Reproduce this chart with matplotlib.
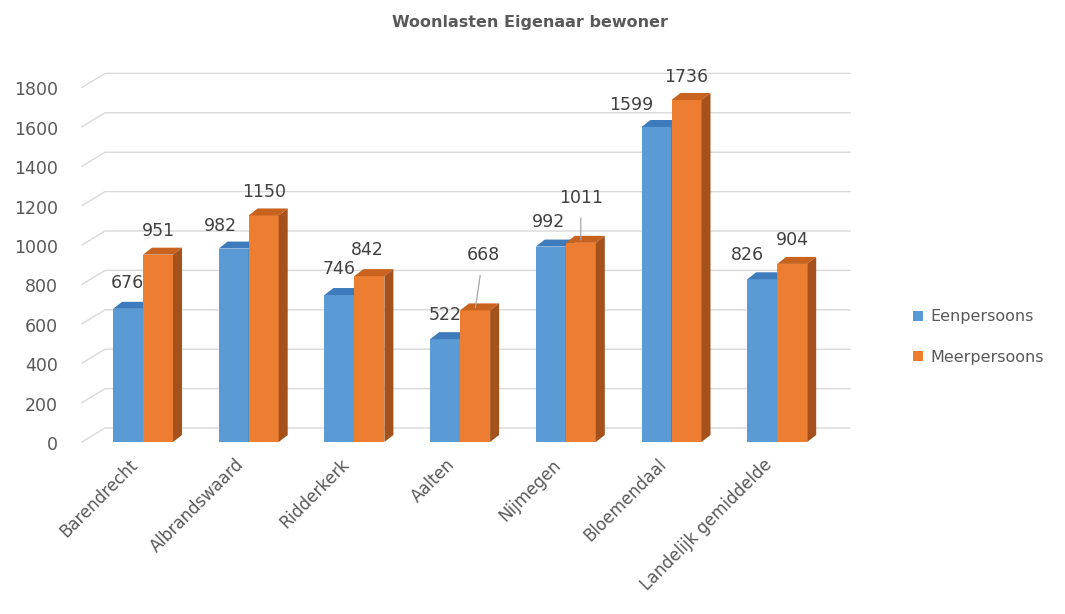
import matplotlib.pyplot as plt
from matplotlib.patches import Polygon, Patch

# data
categories = ['Barendrecht', 'Albrandswaard', 'Ridderkerk', 'Aalten',
              'Nijmegen', 'Bloemendaal', 'Landelijk gemiddelde']
eenpersoons = [676, 982, 746, 522, 992, 1599, 826]
meerpersoons = [951, 1150, 842, 668, 1011, 1736, 904]
series_names = ['Eenpersoons', 'Meerpersoons']
y_ticks = [0, 200, 400, 600, 800, 1000, 1200, 1400, 1600, 1800]

# label offsets in pixels (dx, dy) from the front top centre of each bar
lab_off_een = [(-1, 26), (-13, 23), (0, 26), (0, 24), (-2, 25), (-25, 22), (-15, 24)]
lab_off_meer = [(0, 24), (0, 23), (-2, 26), (8, 55), (0, 45), (0, 23), (0, 24)]
leader_meer = [False, False, False, True, True, False, False]

# colours
blue, blue_top, blue_side = '#5b9bd5', '#3d7bbd', '#3b6c9c'
orange, orange_top, orange_side = '#ed7d31', '#c8621f', '#a4511b'
grid_c = '#d9d9d9'
txt_c = '#595959'

W, H = 1065, 614
fig = plt.figure(figsize=(W / 100, H / 100), dpi=100)

# axes geometry in pixels
px_left, px_right, px_bottom, px_top = 82, 850, 442, 60
ax = fig.add_axes([px_left / W, 1 - px_bottom / H,
                   (px_right - px_left) / W, (px_bottom - px_top) / H])
px_per_x = 105.7
px_per_y = 0.197
x0 = 143  # pixel centre of first group
xmin = (px_left - x0) / px_per_x
xmax = (px_right - x0) / px_per_x
ymax = (px_bottom - px_top) / px_per_y
ax.set_xlim(xmin, xmax)
ax.set_ylim(0, ymax)
ax.axis('off')

bw = 30 / px_per_x           # bar width
ddx, ddy = 9 / px_per_x, 7 / px_per_y      # bar depth
bdx, bdy = 23 / px_per_x, 14 / px_per_y    # back wall offset

k = 72 / 100  # px -> pt

# back wall gridlines with side wall diagonals
for v in y_ticks:
    ax.plot([xmin, xmin + bdx, xmax], [v, v + bdy, v + bdy],
            color=grid_c, lw=1, zorder=1, clip_on=False)
    ax.annotate(str(v), xy=(xmin, v), xytext=(-24 * k, -3 * k),
                textcoords='offset points', ha='right', va='center',
                fontsize=12.5, color=txt_c)


def bar3d(x, h, front, top, side):
    ax.add_patch(Polygon([(x, 0), (x + bw, 0), (x + bw, h), (x, h)],
                         closed=True, fc=front, ec='none', zorder=3))
    ax.add_patch(Polygon([(x, h), (x + bw, h), (x + bw + ddx, h + ddy), (x + ddx, h + ddy)],
                         closed=True, fc=top, ec='none', zorder=3))
    ax.add_patch(Polygon([(x + bw, 0), (x + bw + ddx, ddy), (x + bw + ddx, h + ddy), (x + bw, h)],
                         closed=True, fc=side, ec='none', zorder=3))


for i in range(len(categories)):
    bar3d(i - bw, eenpersoons[i], blue, blue_top, blue_side)
    bar3d(i, meerpersoons[i], orange, orange_top, orange_side)

    dx, dy = lab_off_een[i]
    ax.annotate(str(eenpersoons[i]), xy=(i - bw / 2, eenpersoons[i]),
                xytext=(dx * k, dy * k), textcoords='offset points',
                ha='center', va='center', fontsize=12.5, color='#404040', zorder=5)
    dx, dy = lab_off_meer[i]
    arrow = dict(arrowstyle='-', color='#a6a6a6', lw=0.9, shrinkA=6, shrinkB=2) if leader_meer[i] else None
    ax.annotate(str(meerpersoons[i]), xy=(i + bw / 2, meerpersoons[i]),
                xytext=(dx * k, dy * k), textcoords='offset points',
                ha='center', va='center', fontsize=12.5, color='#404040', zorder=5,
                arrowprops=arrow)

    ax.annotate(categories[i], xy=(i, 0), xytext=(-8 * k, -20 * k),
                textcoords='offset points', rotation=45, rotation_mode='anchor',
                ha='right', va='center', fontsize=12, color=txt_c)

fig.text(530 / W, 1 - 22 / H, 'Woonlasten Eigenaar bewoner', ha='center', va='center',
         fontsize=11.5, fontweight='bold', color=txt_c)

handles = [Patch(fc=blue, ec='none'), Patch(fc=orange, ec='none')]
fig.legend(handles, series_names, loc='center left',
           bbox_to_anchor=(905 / W, 1 - 337 / H), frameon=False,
           handlelength=0.6, handleheight=0.6, handletextpad=0.5,
           labelspacing=1.6, borderpad=0, fontsize=11.5, labelcolor=txt_c)

fig.savefig('out.png', dpi=100)
